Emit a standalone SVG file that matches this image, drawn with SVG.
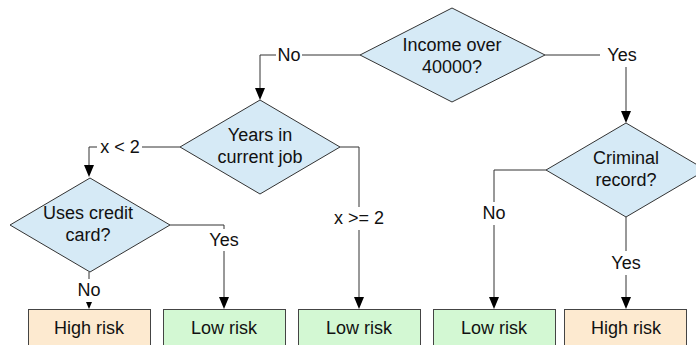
<svg xmlns="http://www.w3.org/2000/svg" width="696" height="345" viewBox="0 0 696 345">
<style>
text{font-family:"Liberation Sans",Arial,sans-serif;font-size:18px;fill:#111;text-anchor:middle}
.d{fill:#D6EAF6;stroke:#333;stroke-width:1}
.hi{fill:#FDEAD0;stroke:#444;stroke-width:1}
.lo{fill:#D3F8D3;stroke:#444;stroke-width:1}
.c{fill:none;stroke:#333;stroke-width:1}
.ah{fill:#000}
</style>
<rect width="696" height="345" fill="#fff"/>
<g id="connectors">
<path class="c" d="M360,55 H302"/>
<path class="c" d="M276,55 H260 V88"/>
<path class="ah" d="M255,88 L265,88 L260,100 Z"/>
<path class="c" d="M545,55 H600"/>
<path class="c" d="M626,67 V111"/>
<path class="ah" d="M621,111 L631,111 L626,123 Z"/>
<path class="c" d="M180,147 H142"/>
<path class="c" d="M97,147 H89 V165"/>
<path class="ah" d="M84,165 L94,165 L89,177 Z"/>
<path class="c" d="M340,147 H359 V207"/>
<path class="c" d="M359,230 V297"/>
<path class="ah" d="M354,297 L364,297 L359,309 Z"/>
<path class="c" d="M170,225 H224 V229"/>
<path class="c" d="M224,251 V297"/>
<path class="ah" d="M219,297 L229,297 L224,309 Z"/>
<path class="c" d="M89,272 V279"/>
<path class="ah" d="M86,302 L92,302 L89,309 Z"/>
<path class="c" d="M546,170 H494 V202"/>
<path class="c" d="M494,225 V297"/>
<path class="ah" d="M489,297 L499,297 L494,309 Z"/>
<path class="c" d="M626,217 V251"/>
<path class="c" d="M626,275 V297"/>
<path class="ah" d="M621,297 L631,297 L626,309 Z"/>
<text x="289" y="61">No</text>
<text x="622" y="61">Yes</text>
<text x="120" y="153">x &lt; 2</text>
<text x="359" y="224">x &gt;= 2</text>
<text x="224" y="246">Yes</text>
<text x="89" y="296">No</text>
<text x="494" y="219">No</text>
<text x="626" y="269">Yes</text>
</g>
<g id="income">
<polygon class="d" points="452,8 545,55 452,102 360,55"/>
<text x="452" y="51">Income over</text>
<text x="452" y="73">40000?</text>
</g>
<g id="years">
<polygon class="d" points="260,100 340,147 260,194 180,147"/>
<text x="260" y="141">Years in</text>
<text x="260" y="163">current job</text>
</g>
<g id="credit">
<polygon class="d" points="90,178 170,225 90,272 10,225"/>
<text x="88" y="219">Uses credit</text>
<text x="88" y="241">card?</text>
</g>
<g id="criminal">
<polygon class="d" points="626,123 706,170 626,217 546,170"/>
<text x="626" y="164">Criminal</text>
<text x="626" y="186">record?</text>
</g>
<g id="r1"><rect class="hi" x="28.5" y="309.5" width="122" height="50"/><text x="89" y="334">High risk</text></g>
<g id="r2"><rect class="lo" x="163.5" y="309.5" width="122" height="50"/><text x="224" y="334">Low risk</text></g>
<g id="r3"><rect class="lo" x="298.5" y="309.5" width="122" height="50"/><text x="359" y="334">Low risk</text></g>
<g id="r4"><rect class="lo" x="433.5" y="309.5" width="122" height="50"/><text x="494" y="334">Low risk</text></g>
<g id="r5"><rect class="hi" x="564.5" y="309.5" width="122" height="50"/><text x="626" y="334">High risk</text></g>
</svg>
